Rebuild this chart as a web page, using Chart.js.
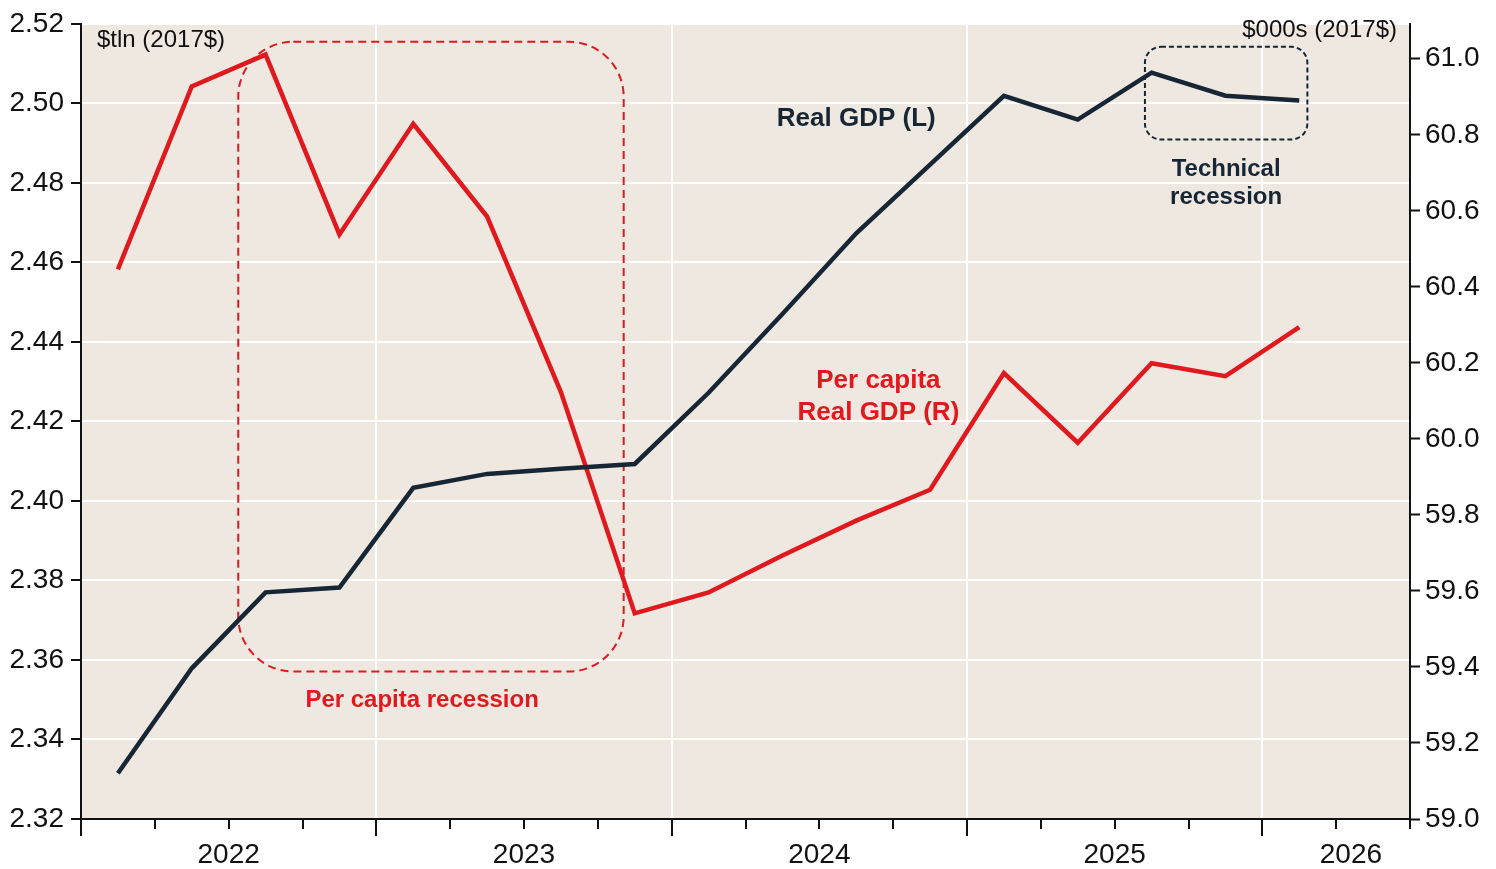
<!DOCTYPE html>
<html>
<head>
<meta charset="utf-8">
<script src="https://cdn.jsdelivr.net/npm/chart.js@4.4.0/dist/chart.umd.min.js"></script>
<style>
  html, body { margin: 0; padding: 0; background: #fff; }
  #wrap { width: 1496px; height: 869px; position: relative; }
</style>
</head>
<body>
<div id="wrap"><canvas id="chartGdp"></canvas></div>
<script>
/* ── Data ─────────────────────────── */

var QUARTERS = [
  '2022 Q1', '2022 Q2', '2022 Q3', '2022 Q4',
  '2023 Q1', '2023 Q2', '2023 Q3', '2023 Q4',
  '2024 Q1', '2024 Q2', '2024 Q3', '2024 Q4',
  '2025 Q1', '2025 Q2', '2025 Q3', '2025 Q4',
  '2026 Q1'
];

// Real GDP, $tln (2017$), left axis
var REAL_GDP = [
  2.3315, 2.3579, 2.3770, 2.3782,
  2.4033, 2.4068, 2.4081, 2.4093,
  2.4272, 2.4470, 2.4673, 2.4846,
  2.5019, 2.4959, 2.5077, 2.5019,
  2.5007
];

// Per capita real GDP, $000s (2017$), right axis
var PER_CAPITA = [
  60.446, 60.927, 61.011, 60.538,
  60.829, 60.585, 60.123, 59.541,
  59.596, 59.693, 59.785, 59.866,
  60.173, 59.990, 60.199, 60.165,
  60.294
];

var LEFT_TICKS  = [2.32, 2.34, 2.36, 2.38, 2.40, 2.42, 2.44, 2.46, 2.48, 2.50, 2.52];
var RIGHT_TICKS = [59.0, 59.2, 59.4, 59.6, 59.8, 60.0, 60.2, 60.4, 60.6, 60.8, 61.0];
var YEAR_LABELS = ['2022', '2023', '2024', '2025', '2026'];
var YEAR_LABEL_POS = [2, 6, 10, 14, 17.2];   // in quarters from start of 2022

var COLORS = {
  navy:  '#172635',
  red:   '#e0191f',
  bg:    '#efe8e1',
  axis:  '#111111'
};

var FONT = '"Liberation Sans", Arial, Helvetica, sans-serif';

// annotations (x in quarters, y in left-axis units)
var BOXES = [
  { x0: 2.13, x1: 7.35, y0: 2.5155, y1: 2.3571, r: 55, color: COLORS.red,  dash: [8, 5], width: 2 },
  { x0: 14.41, x1: 16.61, y0: 2.5142, y1: 2.4909, r: 16, color: COLORS.navy, dash: [5, 3], width: 2 }
];

var NOTES = [
  { text: 'Real GDP (L)',         x: 10.50, y: 2.4944, size: 26, color: COLORS.navy },
  { text: 'Per capita',           x: 10.80, y: 2.4284, size: 26, color: COLORS.red },
  { text: 'Real GDP (R)',         x: 10.80, y: 2.4204, size: 26, color: COLORS.red },
  { text: 'Technical',            x: 15.51, y: 2.4816, size: 24, color: COLORS.navy },
  { text: 'recession',            x: 15.51, y: 2.4746, size: 24, color: COLORS.navy },
  { text: 'Per capita recession', x: 4.62,  y: 2.3481, size: 24, color: COLORS.red }
];

function toPoints(values) {
  return values.map(function(v, i) { return { x: i + 0.5, y: v }; });
}

function roundRect(ctx, x0, y0, x1, y1, r) {
  ctx.beginPath();
  ctx.moveTo(x0 + r, y0);
  ctx.lineTo(x1 - r, y0);
  ctx.arcTo(x1, y0, x1, y0 + r, r);
  ctx.lineTo(x1, y1 - r);
  ctx.arcTo(x1, y1, x1 - r, y1, r);
  ctx.lineTo(x0 + r, y1);
  ctx.arcTo(x0, y1, x0, y1 - r, r);
  ctx.lineTo(x0, y0 + r);
  ctx.arcTo(x0, y0, x0 + r, y0, r);
  ctx.closePath();
}

// ── Plugin: fond, graduations, annotations ──
var decorPlugin = {
  id: 'decor',
  beforeDraw: function(chart) {
    var a = chart.chartArea, ctx = chart.ctx;
    ctx.save();
    ctx.fillStyle = COLORS.bg;
    ctx.fillRect(a.left, a.top, a.right - a.left, a.bottom - a.top);
    ctx.restore();
  },
  beforeDatasetsDraw: function(chart) {
    var ctx = chart.ctx, xs = chart.scales.x, ys = chart.scales.yL;
    ctx.save();
    BOXES.forEach(function(b) {
      ctx.strokeStyle = b.color;
      ctx.lineWidth = b.width;
      ctx.setLineDash(b.dash);
      roundRect(ctx, xs.getPixelForValue(b.x0), ys.getPixelForValue(b.y0),
                xs.getPixelForValue(b.x1), ys.getPixelForValue(b.y1), b.r);
      ctx.stroke();
    });
    ctx.restore();
  },
  afterDraw: function(chart) {
    var ctx = chart.ctx, xs = chart.scales.x, ys = chart.scales.yL, a = chart.chartArea;
    ctx.save();
    // graduations trimestrielles
    ctx.strokeStyle = COLORS.axis;
    ctx.lineWidth = 2;
    for (var q = 0; q <= 18; q++) {
      var px = Math.round(xs.getPixelForValue(q));
      var len = (q % 4 === 0) ? 17 : 10;
      ctx.beginPath();
      ctx.moveTo(px, a.bottom);
      ctx.lineTo(px, a.bottom + len);
      ctx.stroke();
    }
    // unités
    ctx.fillStyle = COLORS.axis;
    ctx.font = '24px ' + FONT;
    ctx.textBaseline = 'alphabetic';
    ctx.textAlign = 'left';
    ctx.fillText('$tln (2017$)', a.left + 16, 47);
    ctx.textAlign = 'right';
    ctx.fillText('$000s (2017$)', a.right - 13, 37);
    // notes
    ctx.textAlign = 'center';
    NOTES.forEach(function(n) {
      ctx.font = 'bold ' + n.size + 'px ' + FONT;
      ctx.fillStyle = n.color;
      ctx.fillText(n.text, xs.getPixelForValue(n.x), ys.getPixelForValue(n.y));
    });
    ctx.restore();
  }
};

var tickFont = { family: FONT, size: 28 };

new Chart(document.getElementById('chartGdp'), {
  type: 'line',
  data: {
    labels: QUARTERS,
    datasets: [{
      label: 'Real GDP (L)',
      data: toPoints(REAL_GDP),
      yAxisID: 'yL',
      borderColor: COLORS.navy,
      borderWidth: 4.5,
      pointRadius: 0,
      tension: 0
    }, {
      label: 'Per capita Real GDP (R)',
      data: toPoints(PER_CAPITA),
      yAxisID: 'yR',
      borderColor: COLORS.red,
      borderWidth: 4.5,
      pointRadius: 0,
      tension: 0
    }]
  },
  options: {
    responsive: true,
    maintainAspectRatio: false,
    animation: false,
    layout: { padding: { top: 22, left: 0, right: 0, bottom: 0 } },
    plugins: {
      legend: { display: false },
      tooltip: { enabled: false }
    },
    scales: {
      x: {
        type: 'linear',
        min: 0,
        max: 18,
        afterFit: function(s) { s.height = 50; },
        afterBuildTicks: function(s) {
          var vals = [];
          for (var q = 0; q <= 18; q++) vals.push(q);
          YEAR_LABEL_POS.forEach(function(v) { if (vals.indexOf(v) < 0) vals.push(v); });
          vals.sort(function(p, q) { return p - q; });
          s.ticks = vals.map(function(v) { return { value: v }; });
        },
        ticks: {
          autoSkip: false,
          maxRotation: 0,
          minRotation: 0,
          padding: 19,
          color: COLORS.axis,
          font: tickFont,
          callback: function(v) {
            var i = YEAR_LABEL_POS.indexOf(v);
            return i >= 0 ? YEAR_LABELS[i] : '';
          }
        },
        grid: {
          drawTicks: false,
          lineWidth: 2,
          color: function(c) {
            var v = c.tick ? c.tick.value : -1;
            return (v > 0 && v < 18 && v % 4 === 0) ? '#ffffff' : 'rgba(0,0,0,0)';
          }
        },
        border: { display: true, color: COLORS.axis, width: 2 }
      },
      yL: {
        type: 'linear',
        position: 'left',
        min: 2.32,
        max: 2.52,
        afterFit: function(s) { s.width = 81; },
        afterBuildTicks: function(s) {
          s.ticks = LEFT_TICKS.map(function(v) { return { value: v }; });
        },
        ticks: {
          padding: 7,
          color: COLORS.axis,
          font: tickFont,
          callback: function(v) { return v.toFixed(2); }
        },
        grid: {
          color: '#ffffff',
          lineWidth: 2,
          tickColor: COLORS.axis,
          tickLength: 10,
          tickWidth: 2
        },
        border: { display: true, color: COLORS.axis, width: 2 }
      },
      yR: {
        type: 'linear',
        position: 'right',
        min: 59.0,
        max: 61.092,
        afterFit: function(s) { s.width = 86; },
        afterBuildTicks: function(s) {
          s.ticks = RIGHT_TICKS.map(function(v) { return { value: v }; });
        },
        ticks: {
          padding: 5,
          color: COLORS.axis,
          font: tickFont,
          callback: function(v) { return v.toFixed(1); }
        },
        grid: {
          drawOnChartArea: false,
          tickColor: COLORS.axis,
          tickLength: 10,
          tickWidth: 2
        },
        border: { display: true, color: COLORS.axis, width: 2 }
      }
    }
  },
  plugins: [decorPlugin]
});
</script>
</body>
</html>
